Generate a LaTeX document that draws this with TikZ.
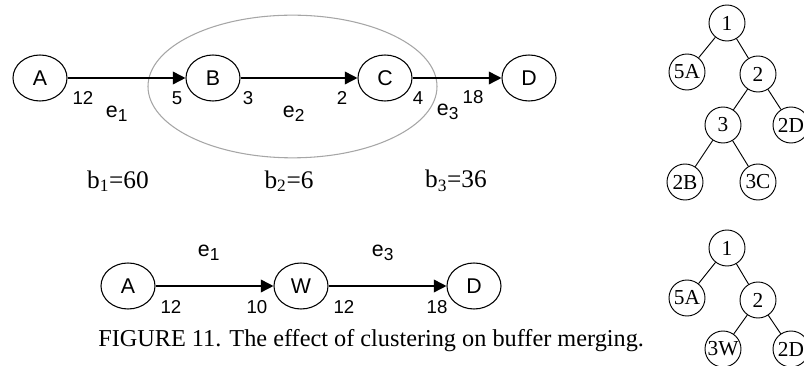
\documentclass[tikz,border=0pt]{standalone}
\usepackage{fontspec}
\setmainfont{Liberation Serif}
\newfontfamily\helv{Liberation Sans}
\usetikzlibrary{shapes.geometric,arrows.meta}
\newcommand{\sbs}[1]{$_{\mbox{\fontsize{13}{13}\selectfont #1}}$}
\tikzset{
  actor/.style={draw, ellipse, line width=0.8pt, minimum width=40.5pt, minimum height=34.5pt, inner sep=0pt,
    font=\helv\fontsize{16}{16}\selectfont},
  flow/.style={line width=1.2pt, -{Triangle[length=9.5pt,width=9.5pt]}},
  port/.style={font=\helv\fontsize{14}{14}\selectfont, inner sep=0pt},
  elab/.style={font=\helv\fontsize{16}{16}\selectfont, inner sep=0pt},
  blab/.style={font=\fontsize{19}{19}\selectfont, inner sep=0pt},
  tnode/.style={draw, circle, line width=0.7pt, minimum size=27pt, inner sep=0pt,
    font=\fontsize{16}{16}\selectfont},
  tedge/.style={line width=0.7pt},
}
\begin{document}
\begin{tikzpicture}[x=0.75pt,y=-0.75pt]
\useasboundingbox (0,0) rectangle (804,366);
\clip (0,0) rectangle (804,366);

% cluster outline around B and C
\node[draw=black!35, line width=0.8pt, ellipse, minimum width=216.75pt, minimum height=107pt] (clu) at (292.5,86.5) {};

% original graph
\node[actor] (A) at (40,78) {A};
\node[actor] (B) at (213,78) {B};
\node[actor] (C) at (385,78) {C};
\node[actor] (D) at (529,78) {D};
\draw[flow] (A) -- (B);
\draw[flow] (B) -- (C);
\draw[flow] (C) -- (D);

\node[port] (p1) at (83,98) {12};
\node[port] (p2) at (177,98) {5};
\node[port] (p3) at (248,98) {3};
\node[port] (p4) at (342,98) {2};
\node[port] (p5) at (418,98) {4};
\node[port] (p6) at (473,97) {18};
\node[elab] (e1) at (117,114) {e\sbs{1}};
\node[elab] (e2) at (294,114) {e\sbs{2}};
\node[elab] (e3) at (448,112) {e\sbs{3}};

\node[blab] (b1) at (118,181) {b\sbs{1}=60};
\node[blab] (b2) at (289,181) {b\sbs{2}=6};
\node[blab] (b3) at (456,181) {b\sbs{3}=36};

% clustered graph
\node[actor] (A2) at (128,286) {A};
\node[actor] (W) at (301,286) {W};
\node[actor] (D2) at (474,286) {D};
\draw[flow] (A2) -- (W);
\draw[flow] (W) -- (D2);
\node[port] (q1) at (171,307) {12};
\node[port] (q2) at (257,307) {10};
\node[port] (q3) at (344,307) {12};
\node[port] (q4) at (437,307) {18};
\node[elab] (f1) at (209,253) {e\sbs{1}};
\node[elab] (f3) at (383,253) {e\sbs{3}};

\node[anchor=base west, inner sep=0pt, font=\fontsize{18.2}{18.2}\selectfont] (cap) at (98,347)
  {FIGURE 11. The effect of clustering on buffer merging.};

% schedule tree of the original graph
\node[tnode] (t1) at (727,23) {1};
\node[tnode] (t5A) at (687,72) {5A};
\node[tnode] (t2) at (758,74) {2};
\node[tnode] (t3) at (723,125) {3};
\node[tnode] (t2D) at (791,125) {2D};
\node[tnode] (t2B) at (685,182) {2B};
\node[tnode] (t3C) at (758,182) {3C};
\draw[tedge] (t1) -- (t5A);
\draw[tedge] (t1) -- (t2);
\draw[tedge] (t2) -- (t3);
\draw[tedge] (t2) -- (t2D);
\draw[tedge] (t3) -- (t2B);
\draw[tedge] (t3) -- (t3C);

% schedule tree of the clustered graph
\node[tnode] (u1) at (727,248) {1};
\node[tnode] (u5A) at (687,298) {5A};
\node[tnode] (u2) at (758,300) {2};
\node[tnode] (u3W) at (723,349) {3W};
\node[tnode] (u2D) at (791,349) {2D};
\draw[tedge] (u1) -- (u5A);
\draw[tedge] (u1) -- (u2);
\draw[tedge] (u2) -- (u3W);
\draw[tedge] (u2) -- (u2D);
\end{tikzpicture}
\end{document}
